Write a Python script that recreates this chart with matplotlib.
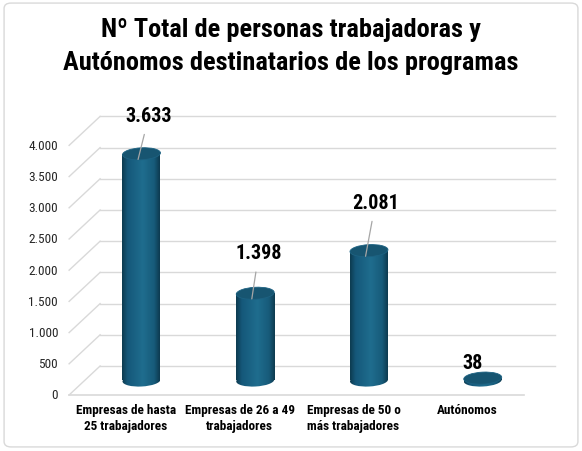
import matplotlib
matplotlib.use("Agg")
import matplotlib.pyplot as plt
import numpy as np
from matplotlib.patches import Ellipse, Rectangle, FancyBboxPatch
from matplotlib.transforms import ScaledTranslation, IdentityTransform
from matplotlib.lines import Line2D
from matplotlib.colors import LinearSegmentedColormap

# datos del gráfico
title = "Nº Total de personas trabajadoras y\nAutónomos destinatarios de los programas"
categories = ["Empresas de hasta\n25 trabajadores", "Empresas de 26 a 49\ntrabajadores",
              "Empresas de 50 o\nmás trabajadores", "Autónomos"]
values = [3633, 1398, 2081, 38]
value_labels = ["3.633", "1.398", "2.081", "38"]
y_ticks = [0, 500, 1000, 1500, 2000, 2500, 3000, 3500, 4000]
y_tick_labels = ["0", "500", "1.000", "1.500", "2.000", "2.500", "3.000", "3.500", "4.000"]

plt.rcParams['font.family'] = ['Roboto Condensed', 'DejaVu Sans']

W, H = 582, 452
fig = plt.figure(figsize=(W / 100, H / 100), dpi=100)
fig.patch.set_facecolor("white")

# plano medio de las barras (en píxeles): 0 en y=381.5, 0.0624 px por unidad
px_per_unit = 0.0624
y_lo, y_hi = -400, 4200
base_px = 381.5
ax_left, ax_w = 84.6, 455.0
ax_bottom = H - (base_px - y_lo * px_per_unit)
ax_h = (y_hi - y_lo) * px_per_unit
ax = fig.add_axes([ax_left / W, ax_bottom / H, ax_w / W, ax_h / H])
ax.set_xlim(-0.5, 3.5)
ax.set_ylim(y_lo, y_hi)
ax.axis("off")

# profundidad 3D (mitad), en pulgadas
DX, DY = 0.155, 0.145
back = ax.transData + ScaledTranslation(DX, DY, fig.dpi_scale_trans)
front = ax.transData + ScaledTranslation(-DX, -DY, fig.dpi_scale_trans)

grid_c = "#d9d9d9"
for v in y_ticks:
    ax.plot([-0.5, 3.5], [v, v], color=grid_c, lw=1.0, transform=back, clip_on=False, zorder=1)
    p0 = front.transform((-0.5, v))
    p1 = back.transform((-0.5, v))
    fig.add_artist(Line2D([p0[0], p1[0]], [p0[1], p1[1]], color=grid_c, lw=1.0,
                          transform=IdentityTransform(), zorder=1))
ax.plot([-0.5, 3.5], [0, 0], color=grid_c, lw=1.2, transform=front, clip_on=False, zorder=1)

# etiquetas del eje y
tick_tr = front + ScaledTranslation(-0.11, 0, fig.dpi_scale_trans)
for v, lab in zip(y_ticks, y_tick_labels):
    ax.text(-0.5, v, lab, transform=tick_tr, ha="right", va="center",
            fontsize=9.5, color="#262626", clip_on=False)

# etiquetas de categorías
cat_tr = front + ScaledTranslation(0, -0.085, fig.dpi_scale_trans)
for i, cat in enumerate(categories):
    ax.text(i, 0, cat, transform=cat_tr, ha="center", va="top", fontsize=9.5,
            fontweight="bold", color="black", linespacing=1.3, clip_on=False)

# cilindros
cyl = LinearSegmentedColormap.from_list("cyl", [
    (0.0, "#0d3b50"), (0.15, "#15587a"), (0.55, "#1f6d8e"),
    (0.85, "#175b7a"), (1.0, "#0d3a4f")])
grad = np.linspace(0, 1, 128).reshape(1, -1)
bar_w_px = 38
w = bar_w_px / (ax_w / 4)
ell_w, ell_h, ell_ang = bar_w_px / 100, 0.12, 3

for i, v in enumerate(values):
    body = Rectangle((i - w / 2, 0), w, v, transform=ax.transData)
    im = ax.imshow(grad, cmap=cyl, extent=[i - w / 2, i + w / 2, 0, v],
                   aspect="auto", zorder=3, interpolation="bilinear")
    im.set_clip_path(body)
    bot = Ellipse((0, 0), ell_w, ell_h, angle=ell_ang,
                  transform=fig.dpi_scale_trans + ScaledTranslation(i, 0, ax.transData))
    im2 = ax.imshow(grad, cmap=cyl, extent=[i - w / 2, i + w / 2, -150, 0],
                    aspect="auto", zorder=3, interpolation="bilinear")
    im2.set_clip_path(bot)
    top = Ellipse((0, 0), ell_w, ell_h, angle=ell_ang, facecolor="#175571",
                  edgecolor="#1d6282", lw=0.6, zorder=4,
                  transform=fig.dpi_scale_trans + ScaledTranslation(i, v, ax.transData))
    ax.add_patch(top)

ax.set_xlim(-0.5, 3.5)
ax.set_ylim(y_lo, y_hi)

# etiquetas de datos (desplazamientos en píxeles)
label_offsets = [(11, 44), (7, 46), (10, 54), (-7, 21)]
leader = [True, True, True, False]
for i, (v, lab) in enumerate(zip(values, value_labels)):
    dx, dy = label_offsets[i]
    ap = dict(arrowstyle="-", color="#a6a6a6", lw=0.9, shrinkA=5, shrinkB=0) if leader[i] else None
    ax.annotate(lab, xy=(i - 0.03, v - 90), xytext=(dx * 0.72, dy * 0.72),
                textcoords="offset points", ha="center", va="center",
                fontsize=14.5, fontweight="bold", color="black",
                arrowprops=ap, annotation_clip=False, zorder=6)

fig.text(0.5, 0.897, title, ha="center", va="center", fontsize=19,
         fontweight="bold", color="black", linespacing=1.45)

fig.add_artist(FancyBboxPatch((0.007, 0.009), 0.986, 0.982,
                              boxstyle="round,pad=0,rounding_size=0.012",
                              transform=fig.transFigure, facecolor="none",
                              edgecolor="#d9d9d9", lw=1.0))

fig.savefig("out.png", dpi=100, facecolor="white")
